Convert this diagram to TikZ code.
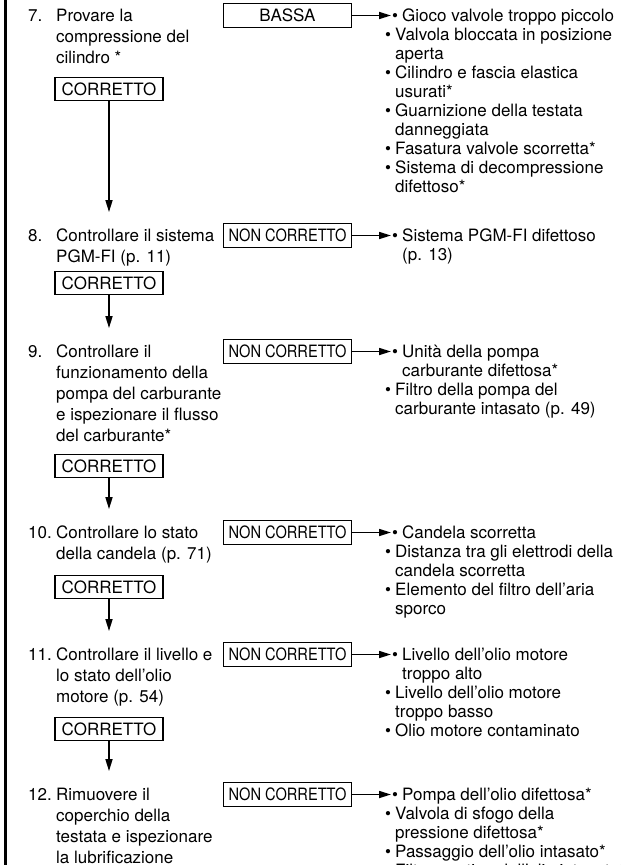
\documentclass[tikz,border=0pt]{standalone}
\usepackage{fontspec}
\setmainfont{TeX Gyre Heros}
\usetikzlibrary{arrows.meta}
\tikzset{
  okbox/.style={draw,line width=1.8pt,minimum width=108pt,minimum height=23pt,
    inner sep=0pt,text height=12.2pt,text depth=0pt,font=\fontsize{17}{19}\selectfont},
  ngbox/.style={okbox,minimum width=128pt,minimum height=24pt},
  stepnode/.style={anchor=base west,inner sep=0pt,font=\fontsize{17}{21}\selectfont},
  faultnode/.style={anchor=base west,inner sep=0pt,font=\fontsize{17}{19}\selectfont},
  arr/.style={line width=1.6pt,-{Triangle[length=12pt,width=7pt]}},
}
\newcommand{\stp}[2]{\begin{tabular}[t]{@{}p{28pt}@{}l@{}}#1&#2\end{tabular}}
\newcommand{\flist}[1]{\begin{tabular}[t]{@{}p{10pt}@{}l@{}}#1\end{tabular}}
% first cause sits a little to the right, after the arrow
\newcommand{\fbul}{\hspace*{7pt}\textbullet&\hspace*{7pt}}
\newcommand{\fcont}{&\hspace*{7pt}}
\newcommand{\nc}{\scalebox{0.86}[1]{NON CORRETTO}}
\begin{document}
\begin{tikzpicture}[x=1pt,y=-1pt]
  \clip (0,0) rectangle (621,865);
  \draw[line width=3pt] (5,0) -- (5,865);
  % steps
  \node[stepnode] (s7) at (28,21) {\stp{7.}{Provare la\\&compressione del\\&cilindro *}};
  \node[stepnode] (s8) at (28,241) {\stp{8.}{Controllare il sistema\\&PGM-FI (p. 11)}};
  \node[stepnode] (s9) at (28,357) {\stp{9.}{Controllare il\\&funzionamento della\\&pompa del carburante\\&e ispezionare il flusso\\&del carburante*}};
  \node[stepnode] (s10) at (28,538) {\stp{10.}{Controllare lo stato\\&della candela (p. 71)}};
  \node[stepnode] (s11) at (28,660) {\stp{11.}{Controllare il livello e\\&lo stato dell’olio\\&motore (p. 54)}};
  \node[stepnode] (s12) at (28,800) {\stp{12.}{Rimuovere il\\&coperchio della\\&testata e ispezionare\\&la lubrificazione}};
  % CORRETTO
  \node[okbox] (c7) at (109,89) {CORRETTO};
  \node[okbox] (c8) at (109,283) {CORRETTO};
  \node[okbox] (c9) at (109,466) {CORRETTO};
  \node[okbox] (c10) at (109,587) {CORRETTO};
  \node[okbox] (c11) at (109,729) {CORRETTO};
  % NON CORRETTO
  \node[ngbox] (n7) at (287.5,15.5) {BASSA};
  \node[ngbox] (n8) at (287.5,235.5) {\nc};
  \node[ngbox] (n9) at (287.5,351.5) {\nc};
  \node[ngbox] (n10) at (287.5,532.5) {\nc};
  \node[ngbox] (n11) at (287.5,654.5) {\nc};
  \node[ngbox] (n12) at (287.5,794.5) {\nc};
  % causes
  \node[faultnode] (f7) at (385,21) {\flist{\fbul Gioco valvole troppo piccolo\\
    \textbullet&Valvola bloccata in posizione\\&aperta\\
    \textbullet&Cilindro e fascia elastica\\&usurati*\\
    \textbullet&Guarnizione della testata\\&danneggiata\\
    \textbullet&Fasatura valvole scorretta*\\
    \textbullet&Sistema di decompressione\\&difettoso*}};
  \node[faultnode] (f8) at (385,241) {\flist{\fbul Sistema PGM-FI difettoso\\\fcont(p. 13)}};
  \node[faultnode] (f9) at (385,357) {\flist{\fbul Unità della pompa\\\fcont carburante difettosa*\\
    \textbullet&Filtro della pompa del\\&carburante intasato (p. 49)}};
  \node[faultnode] (f10) at (385,538) {\flist{\fbul Candela scorretta\\
    \textbullet&Distanza tra gli elettrodi della\\&candela scorretta\\
    \textbullet&Elemento del filtro dell’aria\\&sporco}};
  \node[faultnode] (f11) at (385,660) {\flist{\fbul Livello dell’olio motore\\\fcont troppo alto\\
    \textbullet&Livello dell’olio motore\\&troppo basso\\
    \textbullet&Olio motore contaminato}};
  \node[faultnode] (f12) at (385,800) {\flist{\fbul Pompa dell’olio difettosa*\\
    \textbullet&Valvola di sfogo della\\&pressione difettosa*\\
    \textbullet&Passaggio dell’olio intasato*\\
    \textbullet&Filtro a retina dell’olio intasato*}};
  % arrows
  \foreach \i in {7,...,12}
    \draw[arr,shorten >=-6pt] (n\i.east) -- (n\i.east -| f\i.west);
  \foreach \a/\b in {7/8,8/9,9/10,10/11,11/12}
    \draw[arr,shorten >=14pt] (c\a.south) -- (c\a.south |- s\b.north);
\end{tikzpicture}
\end{document}
